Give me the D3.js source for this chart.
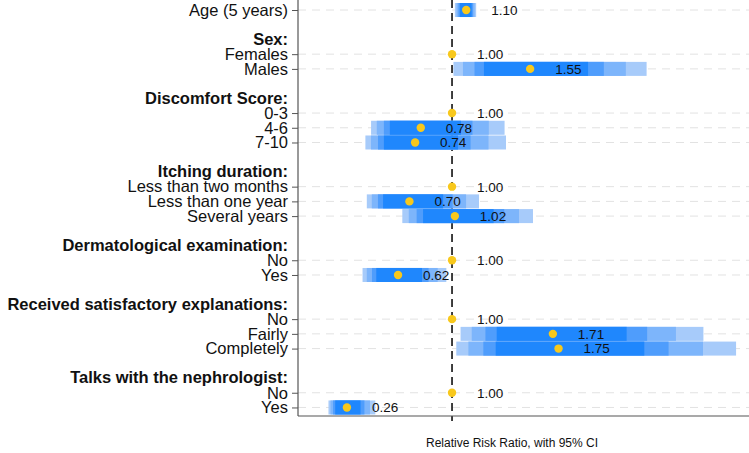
<!DOCTYPE html>
<html>
<head>
<meta charset="utf-8">
<script src="https://cdn.jsdelivr.net/npm/d3@7"></script>
<style>
  body { margin: 0; background: #fff; }
  text { font-family: "Liberation Sans", Arial, Helvetica, sans-serif; }
</style>
</head>
<body>
<svg id="chart" width="749" height="453"></svg>
<script>
// rows top to bottom, "" = spacer, trailing ":" = group header
const rowLabels = [
    "Age (5 years)", "",
    "Sex:", "Females", "Males", "",
    "Discomfort Score:", "0-3", "4-6", "7-10", "",
    "Itching duration:", "Less than two months", "Less than one year", "Several years", "",
    "Dermatological examination:", "No", "Yes", "",
    "Received satisfactory explanations:", "No", "Fairly", "Completely", "",
    "Talks with the nephrologist:", "No", "Yes"
]
// relative risk ratio (null on header / spacer rows)
const rrValues = [
    1.10, null,
    null, 1.00, 1.55, null,
    null, 1.00, 0.78, 0.74, null,
    null, 1.00, 0.70, 1.02, null,
    null, 1.00, 0.62, null,
    null, 1.00, 1.71, 1.75, null,
    null, 1.00, 0.26
]
// 95% CI bounds (null on reference rows)
const ciLow = [
    1.02, null,
    null, null, 1.01, null,
    null, null, 0.43, 0.39, null,
    null, null, 0.40, 0.65, null,
    null, null, 0.37, null,
    null, null, 1.06, 1.03, null,
    null, null, 0.13
]
const ciHigh = [
    1.17, null,
    null, null, 2.37, null,
    null, null, 1.37, 1.38, null,
    null, null, 1.19, 1.57, null,
    null, null, 0.96, null,
    null, null, 2.77, 3.00, null,
    null, null, 0.46
]
// nested bands, outer (95%) to inner, as share of the log half-width
const bandShare = [1, 0.85, 0.68, 0.55]
const bandColors = ["#a7cbfa", "#7db5fb", "#4f9dfc", "#1f87fd"]

const width = 749, height = 453
const plotLeft = 298, plotBottom = 416

const svg = d3.select("#chart")

const x = d3.scaleLinear().domain([-0.0845, 3.091]).range([plotLeft, width])
const y = d3.scaleLinear().domain([-0.68, 27.58]).range([0, plotBottom])
const barH = 14

const rows = rowLabels.map((label, i) => ({
    i, label,
    header: label.endsWith(":"),
    rr: rrValues[i], lo: ciLow[i], hi: ciHigh[i]
}))
const dataRows = rows.filter(d => d.label !== "" && !d.header)
const headerRows = rows.filter(d => d.header)

// dashed gridlines
svg.append("g").selectAll("line")
    .data(dataRows)
    .join("line")
    .attr("x1", plotLeft).attr("x2", width)
    .attr("y1", d => y(d.i)).attr("y2", d => y(d.i))
    .attr("stroke", "#e2e2e2")
    .attr("stroke-width", 1)
    .attr("stroke-dasharray", "8,6")

// reference line at 1
svg.append("line")
    .attr("x1", x(1)).attr("x2", x(1))
    .attr("y1", 0).attr("y2", plotBottom + 5)
    .attr("stroke", "#111")
    .attr("stroke-width", 1.6)
    .attr("stroke-dasharray", "8,5")

// CI bands
const bandGroup = svg.append("g")
dataRows.filter(d => d.lo != null).forEach(d => {
    const mid = Math.log(d.rr)
    const dl = mid - Math.log(d.lo), dh = Math.log(d.hi) - mid
    bandShare.forEach((s, k) => {
        const a = Math.exp(mid - s * dl), b = Math.exp(mid + s * dh)
        bandGroup.append("rect")
            .attr("x", x(a))
            .attr("width", x(b) - x(a))
            .attr("y", y(d.i) - barH / 2)
            .attr("height", barH)
            .attr("fill", bandColors[k])
    })
})

// point estimates
svg.append("g").selectAll("circle")
    .data(dataRows)
    .join("circle")
    .attr("cx", d => x(d.rr))
    .attr("cy", d => y(d.i))
    .attr("r", 4.2)
    .attr("fill", "#f8c81c")

// value labels
svg.append("g").selectAll("text")
    .data(dataRows)
    .join("text")
    .attr("x", d => x(d.rr) + 25)
    .attr("y", d => y(d.i))
    .attr("dy", "0.36em")
    .attr("font-size", 13.5)
    .attr("fill", "#111")
    .text(d => d3.format(".2f")(d.rr))

// y axis
const yAxis = d3.axisLeft(y)
    .tickValues(dataRows.map(d => d.i))
    .tickFormat(i => rowLabels[i])
    .tickSize(6)
    .tickPadding(4)
const yg = svg.append("g")
    .attr("transform", `translate(${plotLeft},0)`)
    .call(yAxis)
yg.select(".domain").remove()
yg.selectAll(".tick line").attr("stroke", "#555")
yg.selectAll(".tick text")
    .attr("font-size", 16.5)
    .attr("fill", "#111")
    .style("font-family", "'Liberation Sans', Arial, sans-serif")

svg.append("g").selectAll("text")
    .data(headerRows)
    .join("text")
    .attr("x", plotLeft - 10)
    .attr("y", d => y(d.i))
    .attr("dy", "0.32em")
    .attr("text-anchor", "end")
    .attr("font-size", 16.5)
    .attr("font-weight", "bold")
    .attr("fill", "#111")
    .text(d => d.label)

// axis frame
svg.append("line")
    .attr("x1", plotLeft).attr("x2", plotLeft)
    .attr("y1", 0).attr("y2", plotBottom)
    .attr("stroke", "#555").attr("stroke-width", 1.2)
svg.append("line")
    .attr("x1", plotLeft).attr("x2", width)
    .attr("y1", plotBottom).attr("y2", plotBottom)
    .attr("stroke", "#555").attr("stroke-width", 1.2)

// x title
svg.append("text")
    .attr("x", 512)
    .attr("y", 447)
    .attr("text-anchor", "middle")
    .attr("font-size", 12)
    .attr("fill", "#111")
    .text("Relative Risk Ratio, with 95% CI")
</script>
</body>
</html>
